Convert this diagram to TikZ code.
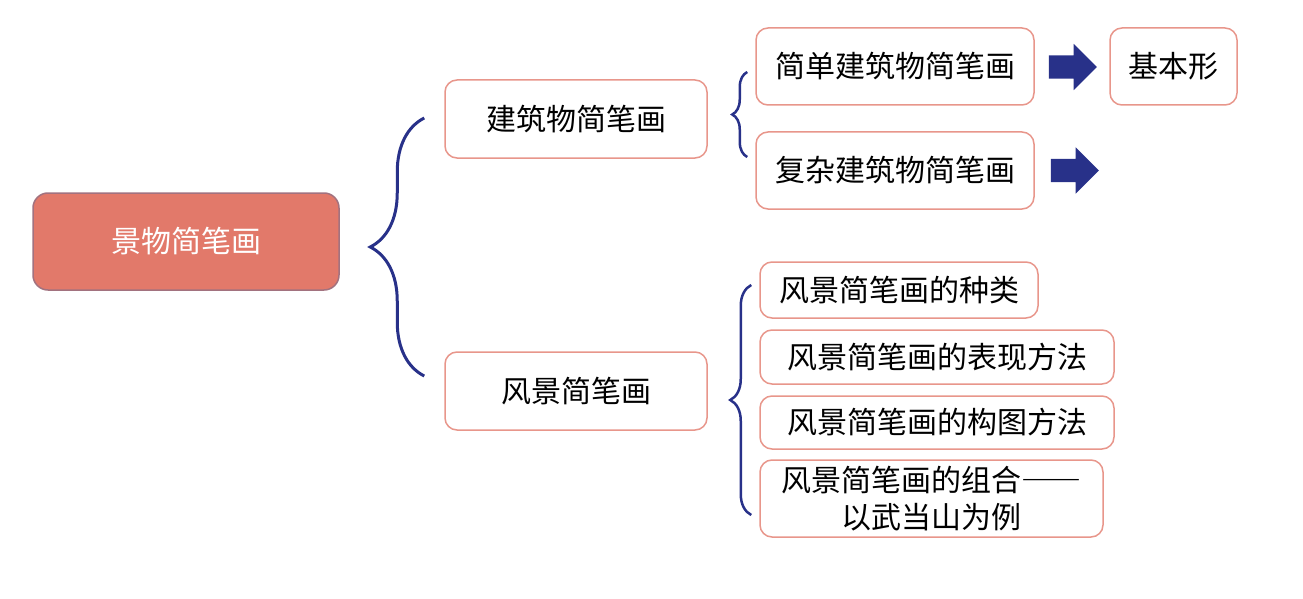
\documentclass[tikz,border=0pt]{standalone}
\usepackage{fontspec}
\setmainfont[RawFeature={+fwid}]{Noto Sans CJK SC}
\usetikzlibrary{shapes.arrows,decorations.pathreplacing,calc}
\definecolor{rootred}{HTML}{E2796A}
\definecolor{rootedge}{HTML}{A2727F}
\definecolor{boxedge}{HTML}{E8968B}
\definecolor{navy}{HTML}{283189}

\begin{document}
\begin{tikzpicture}[x=1pt,y=-1pt,
	box/.style={draw=boxedge,line width=1.5pt,rounded corners=12pt,fill=white,inner sep=0pt,align=center,font=\fontsize{30}{37}\selectfont},
	rootbox/.style={box,draw=rootedge,fill=rootred,text=white,rounded corners=15pt},
	curly/.style={draw=navy,line width=3pt,decorate,decoration={brace,amplitude=#1}},
	bigarrow/.style={single arrow,fill=navy,inner xsep=0pt,inner ysep=11.5pt,minimum height=48pt,single arrow head extend=11.5pt,single arrow tip angle=90}]
	\useasboundingbox (0,0) rectangle (1303,599);
	% root and first level
	\node[rootbox,minimum width=306pt,minimum height=97pt] (root) at (186,241.5) {景物简笔画};
	\node[box,minimum width=262pt,minimum height=78pt] (jz) at (576,119) {建筑物简笔画};
	\node[box,minimum width=262pt,minimum height=78pt] (fj) at (576,391) {风景简笔画};
	% buildings
	\node[box,minimum width=278pt,minimum height=77pt] (jd) at (895,66.5) {简单建筑物简笔画};
	\node[box,minimum width=278pt,minimum height=77pt] (fz) at (895,170.5) {复杂建筑物简笔画};
	\node[box,minimum width=127pt,minimum height=77pt] (jbx) at (1173.5,66.5) {基本形};
	\node[bigarrow] (ar1) at (1067,67) {};
	\node[bigarrow] (ar2) at (1069,170.5) {};
	% landscapes
	\node[box,minimum width=278pt,minimum height=56pt] (zl) at (899,290) {风景简笔画的种类};
	\node[box,minimum width=354pt,minimum height=54pt] (bx) at (937,357) {风景简笔画的表现方法};
	\node[box,minimum width=354pt,minimum height=53pt] (gt) at (937,422.5) {风景简笔画的构图方法};
	\node[box,minimum width=343pt,minimum height=77pt] (zh) at (931.5,498.5) {风景简笔画的组合——\\以武当山为例};
	% braces
	\draw[curly=54pt] ($(fj.west)+(-20,-15)$) -- ($(jz.west)+(-20,-1)$);
	\draw[curly=15pt,line width=2.5pt] ($(fz.west)+(-8,-13.5)$) -- ($(jd.west)+(-8,5.5)$);
	\draw[curly=21pt,line width=2.5pt] ($(zh.west)+(-8,16.5)$) -- ($(zl.west)+(-8,-5)$);
\end{tikzpicture}
\end{document}
